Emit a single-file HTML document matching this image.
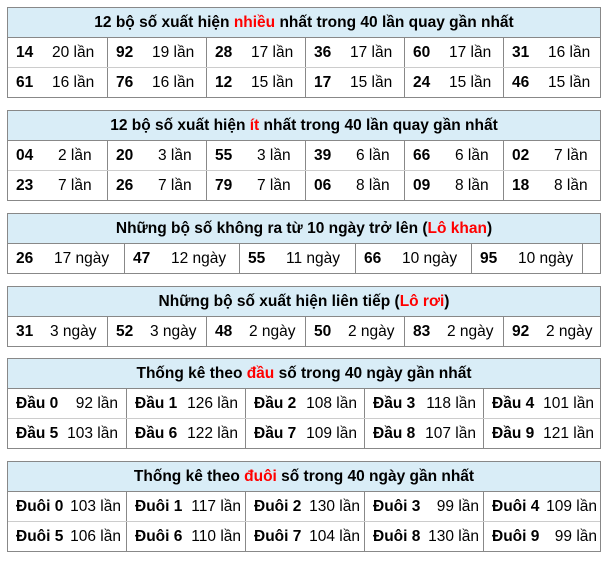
<!DOCTYPE html>
<html><head><meta charset="utf-8"><style>
body{margin:0;width:607px;height:561px;background:#fff;font-family:"Liberation Sans",Arial,sans-serif;font-size:15.5px;color:#000;position:relative;overflow:hidden}
.t{position:absolute;left:7px;width:592px;border:1px solid #888;}
.h{height:29px;line-height:29px;background:#d9edf7;text-align:center;font-weight:bold;border-bottom:1px solid #888}
.r{height:29px;position:relative;}
.r+.r{border-top:1px solid #ccc}
.c{position:absolute;top:0;height:29px;line-height:29px;border-left:1px solid #888;white-space:nowrap}
.c:first-child{border-left:none}
.c b{position:absolute;left:8px}
.c span{position:absolute}
.red{color:#f00}
</style></head><body>
<script>
function T(top,title,cols,rows,off,extra,rp){
 let h='<div class="t" style="top:'+top+'px"><div class="h">'+title+'</div>';
 rows.forEach(r=>{
  h+='<div class="r">';
  r.forEach((c,i)=>{
   let l=cols[i]-7,w=(cols[i+1]||600)-cols[i];
   let pos=rp!=null?'right:'+rp+'px':'left:'+off+'px';
   h+='<div class="c" style="left:'+l+'px;width:'+w+'px"><b>'+c[0]+'</b><span style="'+pos+'">'+c[1]+'</span></div>';
  });
  h+='</div>';
 });
 return h+'</div>';
}
let c6=[7,106,205,304,403,502];
let c5=[7,125,244,363,482];
let s='';
s+=T(7,'12 bộ số xuất hiện <span class="red">nhiều</span> nhất trong 40 lần quay gần nhất',c6,[[["14","20 lần"],["92","19 lần"],["28","17 lần"],["36","17 lần"],["60","17 lần"],["31","16 lần"]],[["61","16 lần"],["76","16 lần"],["12","15 lần"],["17","15 lần"],["24","15 lần"],["46","15 lần"]]],44);
s+=T(110,'12 bộ số xuất hiện <span class="red">ít</span> nhất trong 40 lần quay gần nhất',c6,[[["04","2 lần"],["20","3 lần"],["55","3 lần"],["39","6 lần"],["66","6 lần"],["02","7 lần"]],[["23","7 lần"],["26","7 lần"],["79","7 lần"],["06","8 lần"],["09","8 lần"],["18","8 lần"]]],50);
document.write(s);
let c3=[7,123,238,354,470];
let h3='<div class="t" style="top:213px"><div class="h">Những bộ số không ra từ 10 ngày trở lên (<span class="red">Lô khan</span>)</div><div class="r">';
[["26","17 ngày"],["47","12 ngày"],["55","11 ngày"],["66","10 ngày"],["95","10 ngày"]].forEach((c,i)=>{let l=c3[i]-7,w=(c3[i+1]||581)-c3[i];h3+='<div class="c" style="left:'+l+'px;width:'+w+'px"><b>'+c[0]+'</b><span style="left:46px">'+c[1]+'</span></div>';});
h3+='<div class="c" style="left:574px;width:18px"></div></div></div>';
document.write(h3);
let h4='<div class="t" style="top:286px"><div class="h">Những bộ số xuất hiện liên tiếp (<span class="red">Lô rơi</span>)</div><div class="r">';
[["31","3 ngày"],["52","3 ngày"],["48","2 ngày"],["50","2 ngày"],["83","2 ngày"],["92","2 ngày"]].forEach((c,i)=>{let l=c6[i]-7,w=(c6[i+1]||600)-c6[i];h4+='<div class="c" style="left:'+l+'px;width:'+w+'px"><b>'+c[0]+'</b><span style="left:42px">'+c[1]+'</span></div>';});
h4+='</div></div>';
document.write(h4);
document.write(T(358,'Thống kê theo <span class="red">đầu</span> số trong 40 ngày gần nhất',c5,[[["Đầu 0","92 lần"],["Đầu 1","126 lần"],["Đầu 2","108 lần"],["Đầu 3","118 lần"],["Đầu 4","101 lần"]],[["Đầu 5","103 lần"],["Đầu 6","122 lần"],["Đầu 7","109 lần"],["Đầu 8","107 lần"],["Đầu 9","121 lần"]]],0,0,8));
document.write(T(461,'Thống kê theo <span class="red">đuôi</span> số trong 40 ngày gần nhất',c5,[[["Đuôi 0","103 lần"],["Đuôi 1","117 lần"],["Đuôi 2","130 lần"],["Đuôi 3","99 lần"],["Đuôi 4","109 lần"]],[["Đuôi 5","106 lần"],["Đuôi 6","110 lần"],["Đuôi 7","104 lần"],["Đuôi 8","130 lần"],["Đuôi 9","99 lần"]]],0,0,5));
</script>
</body></html>
